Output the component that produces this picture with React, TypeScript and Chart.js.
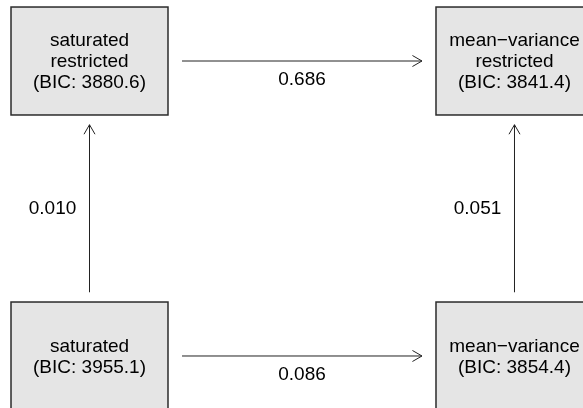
import React, { useEffect, useRef } from "react";
import { Chart, registerables } from "chart.js";

Chart.register(...registerables);

// ---- data ----
const nodeLines: string[][] = [
  ["saturated", "restricted"],
  ["mean\u2212variance", "restricted"],
  ["saturated"],
  ["mean\u2212variance"],
];
const nodeBIC: number[] = [3880.6, 3841.4, 3955.1, 3854.4];
const nodeCol: number[] = [0, 1, 0, 1];
const nodeRow: number[] = [1, 1, 0, 0];

const edgeFrom: number[] = [0, 2, 2, 3];
const edgeTo: number[] = [1, 3, 0, 1];
const edgeValues: number[] = [0.686, 0.086, 0.01, 0.051];

// ---- layout (in scale units) ----
const HALF_W = 0.1847;
const HALF_H = 0.183;
const GAP = 0.033;
const FONT = '19px "Liberation Sans", Arial, Helvetica, sans-serif';

function edgePoints(i: number) {
  const a = edgeFrom[i];
  const b = edgeTo[i];
  const dx = Math.sign(nodeCol[b] - nodeCol[a]);
  const dy = Math.sign(nodeRow[b] - nodeRow[a]);
  return [
    { x: nodeCol[a] + dx * (HALF_W + GAP), y: nodeRow[a] + dy * (HALF_H + GAP) },
    { x: nodeCol[b] - dx * (HALF_W + GAP), y: nodeRow[b] - dy * (HALF_H + GAP) },
  ];
}

const diagramPlugin = {
  id: "diagram",
  beforeDatasetsDraw(chart: any) {
    const ctx = chart.ctx as CanvasRenderingContext2D;
    const xs = chart.scales.x;
    const ys = chart.scales.y;
    ctx.save();
    for (let i = 0; i < nodeLines.length; i++) {
      const x0 = xs.getPixelForValue(nodeCol[i] - HALF_W);
      const x1 = xs.getPixelForValue(nodeCol[i] + HALF_W);
      const y0 = ys.getPixelForValue(nodeRow[i] + HALF_H);
      const y1 = ys.getPixelForValue(nodeRow[i] - HALF_H);
      ctx.fillStyle = "#e5e5e5";
      ctx.fillRect(x0, y0, x1 - x0, y1 - y0);
      ctx.strokeStyle = "#2b2b2b";
      ctx.lineWidth = 1.5;
      ctx.strokeRect(x0, y0, x1 - x0, y1 - y0);

      const lines = [...nodeLines[i], `(BIC: ${nodeBIC[i].toFixed(1)})`];
      const cx = xs.getPixelForValue(nodeCol[i]);
      const cy = ys.getPixelForValue(nodeRow[i]);
      const lh = 21;
      ctx.fillStyle = "#000000";
      ctx.font = FONT;
      ctx.textAlign = "center";
      ctx.textBaseline = "middle";
      lines.forEach((t, k) => {
        ctx.fillText(t, cx, cy + 1 + (k - (lines.length - 1) / 2) * lh);
      });
    }
    ctx.restore();
  },
  afterDatasetsDraw(chart: any) {
    const ctx = chart.ctx as CanvasRenderingContext2D;
    ctx.save();
    chart.data.datasets.forEach((_ds: any, i: number) => {
      const meta = chart.getDatasetMeta(i);
      const p0 = meta.data[0];
      const p1 = meta.data[1];
      const ang = Math.atan2(p1.y - p0.y, p1.x - p0.x);
      const len = 11;
      const spread = Math.PI / 6;
      ctx.strokeStyle = "#222222";
      ctx.lineWidth = 1;
      ctx.beginPath();
      ctx.moveTo(p1.x - len * Math.cos(ang - spread), p1.y - len * Math.sin(ang - spread));
      ctx.lineTo(p1.x, p1.y);
      ctx.lineTo(p1.x - len * Math.cos(ang + spread), p1.y - len * Math.sin(ang + spread));
      ctx.stroke();

      const mx = (p0.x + p1.x) / 2;
      const my = (p0.y + p1.y) / 2;
      ctx.fillStyle = "#000000";
      ctx.font = FONT;
      ctx.textBaseline = "middle";
      ctx.textAlign = "center";
      const label = edgeValues[i].toFixed(3);
      if (Math.abs(p1.y - p0.y) < 1) {
        ctx.fillText(label, mx, my + 19);
      } else {
        ctx.fillText(label, mx - 37, my);
      }
    });
    ctx.restore();
  },
};

export default function App() {
  const ref = useRef<HTMLCanvasElement | null>(null);
  useEffect(() => {
    document.body.style.margin = "0";
    if (!ref.current) return;
    const chart = new Chart(ref.current, {
      type: "scatter",
      data: {
        datasets: edgeValues.map((v, i) => ({
          label: v.toFixed(3),
          data: edgePoints(i),
          showLine: true,
          borderColor: "#222222",
          borderWidth: 1,
          pointRadius: 0,
          pointHoverRadius: 0,
          fill: false,
        })),
      },
      options: {
        responsive: false,
        animation: false,
        events: [],
        layout: { padding: 0 },
        plugins: { legend: { display: false }, tooltip: { enabled: false } },
        scales: {
          x: { type: "linear", display: false, min: -0.2106, max: 1.1612 },
          y: { type: "linear", display: false, min: -0.1763, max: 1.2068 },
        },
      },
      plugins: [diagramPlugin],
    });
    return () => chart.destroy();
  }, []);
  return (
    <div style={{ position: "absolute", left: 0, top: 0, width: 583, height: 408, background: "#ffffff" }}>
      <canvas ref={ref} width={583} height={408} style={{ width: 583, height: 408 }} />
    </div>
  );
}
